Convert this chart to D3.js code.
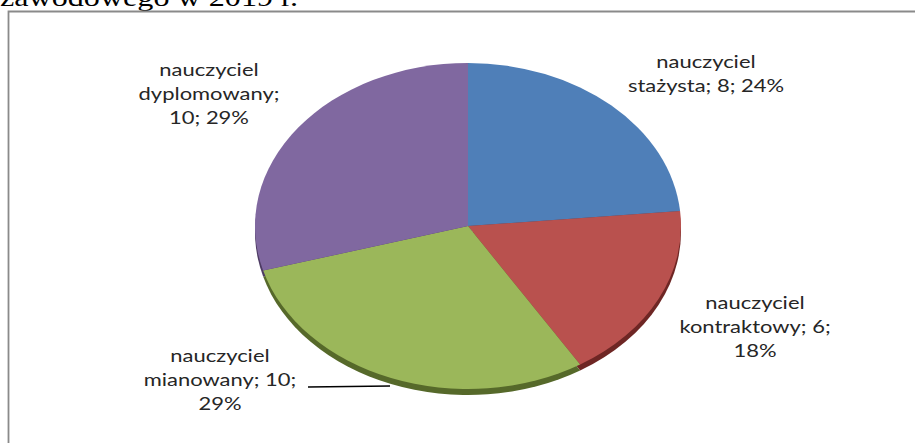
<!DOCTYPE html>
<html>
<head>
<meta charset="utf-8">
<script src="https://cdn.jsdelivr.net/npm/d3@7"></script>
<style>
  body { margin: 0; background: #fff; }
  svg { display: block; }
</style>
</head>
<body>
<div id="chart"></div>
<script>
const width = 915;
const height = 443;

// data
const categories = ["nauczyciel stażysta", "nauczyciel kontraktowy", "nauczyciel mianowany", "nauczyciel dyplomowany"];
const values = [8, 6, 10, 10];
const percents = ["24%", "18%", "29%", "29%"];
const colors = ["#4f7fb8", "#b9514e", "#9bb75a", "#8068a0"];
const rimColors = ["#2f4f78", "#6e2624", "#56692a", "#4d3b63"];

// layout of the labels (how Excel wrapped them and where it put them)
const labelLayout = [
  { x: 706, y: 68, lines: ["nauczyciel", "stażysta; 8; 24%"] },
  { x: 755, y: 309, lines: ["nauczyciel", "kontraktowy; 6;", "18%"] },
  { x: 220, y: 362, lines: ["nauczyciel", "mianowany; 10;", "29%"] },
  { x: 209, y: 76, lines: ["nauczyciel", "dyplomowany;", "10; 29%"] }
];

const cx = 468, cy = 226, rx = 213, ry = 163, depth = 6;

const svg = d3.select("#chart").append("svg")
              .attr("width", width)
              .attr("height", height)

// cut-off heading above the box
svg.append("text")
   .attr("x", 0)
   .attr("y", 6)
   .attr("font-family", "Liberation Serif")
   .attr("font-size", 25)
   .attr("textLength", 298)
   .attr("lengthAdjust", "spacingAndGlyphs")
   .text("zawodowego w 2019 r.")

// frame
svg.append("path")
   .attr("d", `M8.5,${height} L8.5,11.5 L${width},11.5`)
   .attr("fill", "none")
   .attr("stroke", "#8a8a8a")
   .attr("stroke-width", 1.8)

const pie = d3.pie().sort(null).value(d => d)
const arcs = pie(values)
const arc = d3.arc().innerRadius(0).outerRadius(rx)

// rim (thickness) drawn first, shifted down
svg.append("g")
   .attr("transform", `translate(${cx}, ${cy + depth}) scale(1, ${ry / rx})`)
   .selectAll("path")
   .data(arcs)
   .enter()
   .append("path")
   .attr("d", arc)
   .attr("fill", (d, i) => rimColors[i])

svg.append("g")
   .attr("transform", `translate(${cx}, ${cy}) scale(1, ${ry / rx})`)
   .selectAll("path")
   .data(arcs)
   .enter()
   .append("path")
   .attr("d", arc)
   .attr("fill", (d, i) => colors[i])

// leader line for "mianowany"
svg.append("line")
   .attr("x1", 308)
   .attr("y1", 387)
   .attr("x2", 390)
   .attr("y2", 386)
   .attr("stroke", "#000")
   .attr("stroke-width", 1.5)

const labels = svg.selectAll("g.label")
                  .data(labelLayout)
                  .enter()
                  .append("g")
                  .attr("class", "label")
                  .attr("transform", d => `translate(${d.x}, ${d.y}) scale(1.22, 1)`)

labels.selectAll("text")
      .data(d => d.lines)
      .enter()
      .append("text")
      .attr("x", 0)
      .attr("y", (d, i) => i * 24)
      .attr("text-anchor", "middle")
      .attr("font-family", "Lato")
      .attr("font-size", 18)
      .attr("fill", "#262626")
      .text(d => d)
</script>
</body>
</html>
